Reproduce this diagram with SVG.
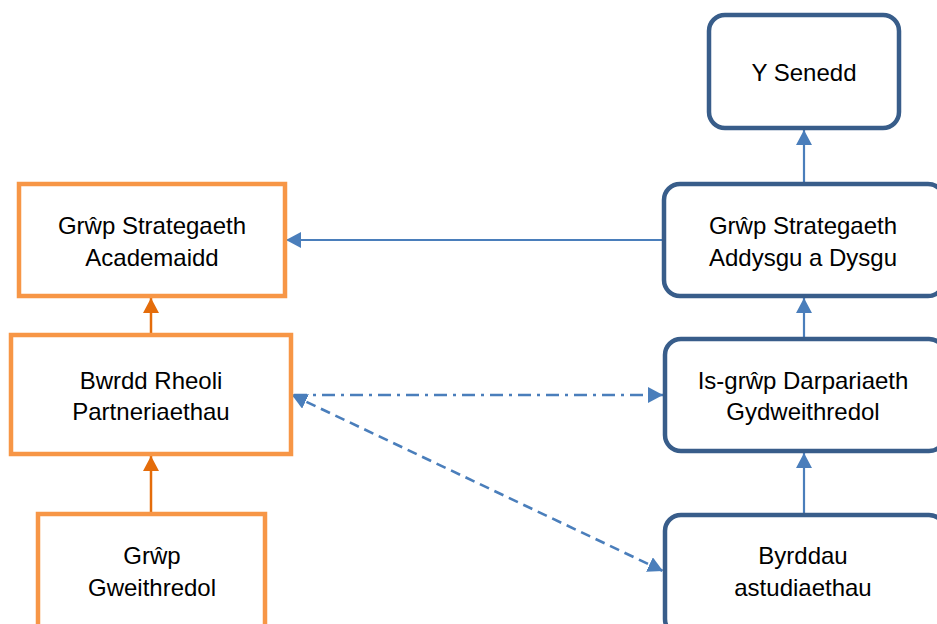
<svg xmlns="http://www.w3.org/2000/svg" width="937" height="624" viewBox="0 0 937 624">
<style>
.or{fill:#fff;stroke:#F79646;stroke-width:4.5}
.bl{fill:#fff;stroke:#385D8A;stroke-width:4.5}
text{font-family:"Liberation Sans",Arial,sans-serif;font-size:24px;fill:#000;text-anchor:middle}
.ca{stroke:#4A7EBB;stroke-width:2.2;fill:none}
.cd{stroke:#4A7EBB;stroke-width:2.6;fill:none}
.co{stroke:#E46C0A;stroke-width:2.5;fill:none}
</style>
<defs>
<marker id="ab" markerUnits="userSpaceOnUse" markerWidth="17" markerHeight="17" refX="15" refY="8" orient="auto-start-reverse"><path d="M0,0 L15,8 L0,16 Z" fill="#4A7EBB"/></marker>
<marker id="ao" markerUnits="userSpaceOnUse" markerWidth="17" markerHeight="17" refX="15" refY="8" orient="auto"><path d="M0,0 L15,8 L0,16 Z" fill="#E46C0A"/></marker>
</defs>
<rect width="937" height="624" fill="#fff"/>
<g id="connectors">
<line class="co" x1="151" y1="334" x2="151" y2="298" marker-end="url(#ao)"/>
<line class="co" x1="151" y1="513" x2="151" y2="456" marker-end="url(#ao)"/>
<line class="ca" x1="804" y1="183" x2="804" y2="130" marker-end="url(#ab)"/>
<line class="ca" x1="804" y1="337" x2="804" y2="298" marker-end="url(#ab)"/>
<line class="ca" x1="804" y1="513" x2="804" y2="453" marker-end="url(#ab)"/>
<line class="ca" x1="663" y1="240" x2="286" y2="240" marker-end="url(#ab)"/>
<line class="cd" x1="294" y1="395" x2="663" y2="395" stroke-dasharray="13 6 3 6" marker-end="url(#ab)"/>
<line class="cd" x1="292" y1="395" x2="663" y2="571" stroke-dasharray="10 6" marker-start="url(#ab)" marker-end="url(#ab)"/>
</g>
<g id="academaidd"><rect class="or" x="19" y="184" width="266" height="112"/><text x="152" y="234">Grŵp Strategaeth</text><text x="152" y="266">Academaidd</text></g>
<g id="bwrdd"><rect class="or" x="11" y="335" width="280" height="119"/><text x="151" y="389">Bwrdd Rheoli</text><text x="151" y="420">Partneriaethau</text></g>
<g id="gweithredol"><rect class="or" x="38" y="514" width="227" height="120"/><text x="152" y="564">Grŵp</text><text x="152" y="596">Gweithredol</text></g>
<g id="senedd"><rect class="bl" x="709" y="15" width="190" height="113" rx="16"/><text x="804" y="81">Y Senedd</text></g>
<g id="addysgu"><rect class="bl" x="664" y="184" width="280" height="112" rx="16"/><text x="803" y="234">Grŵp Strategaeth</text><text x="803" y="266">Addysgu a Dysgu</text></g>
<g id="isgrwp"><rect class="bl" x="665" y="339" width="280" height="112" rx="16"/><text x="803" y="389">Is-grŵp Darpariaeth</text><text x="803" y="420">Gydweithredol</text></g>
<g id="byrddau"><rect class="bl" x="665" y="515" width="280" height="120" rx="16"/><text x="803" y="564">Byrddau</text><text x="803" y="596">astudiaethau</text></g>
</svg>
